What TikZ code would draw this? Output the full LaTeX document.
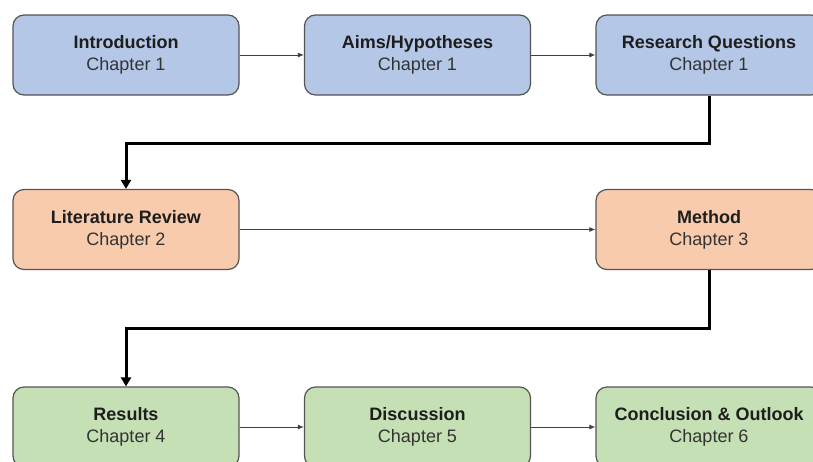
\documentclass[tikz,border=0pt]{standalone}
\usepackage{fontspec}
\setmainfont{Liberation Sans}
\usetikzlibrary{arrows.meta}
\definecolor{bluebox}{HTML}{B4C7E7}
\definecolor{orangebox}{HTML}{F8CBAD}
\definecolor{greenbox}{HTML}{C5E0B4}
\definecolor{edgegray}{HTML}{555555}
\definecolor{txtdark}{HTML}{1E1E1E}
\definecolor{txtreg}{HTML}{333333}
\tikzset{
  chapbox/.style={draw=edgegray, line width=1.2pt, rounded corners=11pt,
    minimum width=226pt, minimum height=80pt, align=center,
    font=\fontsize{18}{22}\selectfont, text=txtreg, inner sep=0pt},
  thinarrow/.style={draw=black!75, line width=0.9pt, -{Latex[length=6pt,width=5pt]}},
  thickarrow/.style={draw=black, line width=3pt, -{Triangle[length=9pt,width=10pt]}}
}
\newcommand{\chbox}[2]{{\color{txtdark}\bfseries #1}\\#2}
\begin{document}
\begin{tikzpicture}[x=1pt,y=-1pt]
\useasboundingbox (0,0) rectangle (813,461);
\fill[white] (0,0) rectangle (813,461);
% row 1
\node[chapbox, fill=bluebox] (intro) at (126,55) {\chbox{Introduction}{Chapter 1}};
\node[chapbox, fill=bluebox] (aims) at (417.5,55) {\chbox{Aims/Hypotheses}{Chapter 1}};
\node[chapbox, fill=bluebox] (rq) at (709,55) {\chbox{Research Questions}{Chapter 1}};
% row 2
\node[chapbox, fill=orangebox] (lit) at (126,229.5) {\chbox{Literature Review}{Chapter 2}};
\node[chapbox, fill=orangebox] (meth) at (709,229.5) {\chbox{Method}{Chapter 3}};
% row 3
\node[chapbox, fill=greenbox] (res) at (126,427) {\chbox{Results}{Chapter 4}};
\node[chapbox, fill=greenbox] (disc) at (417.5,427) {\chbox{Discussion}{Chapter 5}};
\node[chapbox, fill=greenbox] (conc) at (709,427) {\chbox{Conclusion \& Outlook}{Chapter 6}};
% helper coordinates
\coordinate (m1) at (0,143);
\coordinate (m2) at (0,328);
% thin arrows
\draw[thinarrow] (intro) -- (aims);
\draw[thinarrow] (aims) -- (rq);
\draw[thinarrow] (lit) -- (meth);
\draw[thinarrow] (res) -- (disc);
\draw[thinarrow] (disc) -- (conc);
% thick connectors
\draw[thickarrow] (rq.south) -- (rq.south |- m1) -| (lit.north);
\draw[thickarrow] (meth.south) -- (meth.south |- m2) -| (res.north);
\end{tikzpicture}
\end{document}
